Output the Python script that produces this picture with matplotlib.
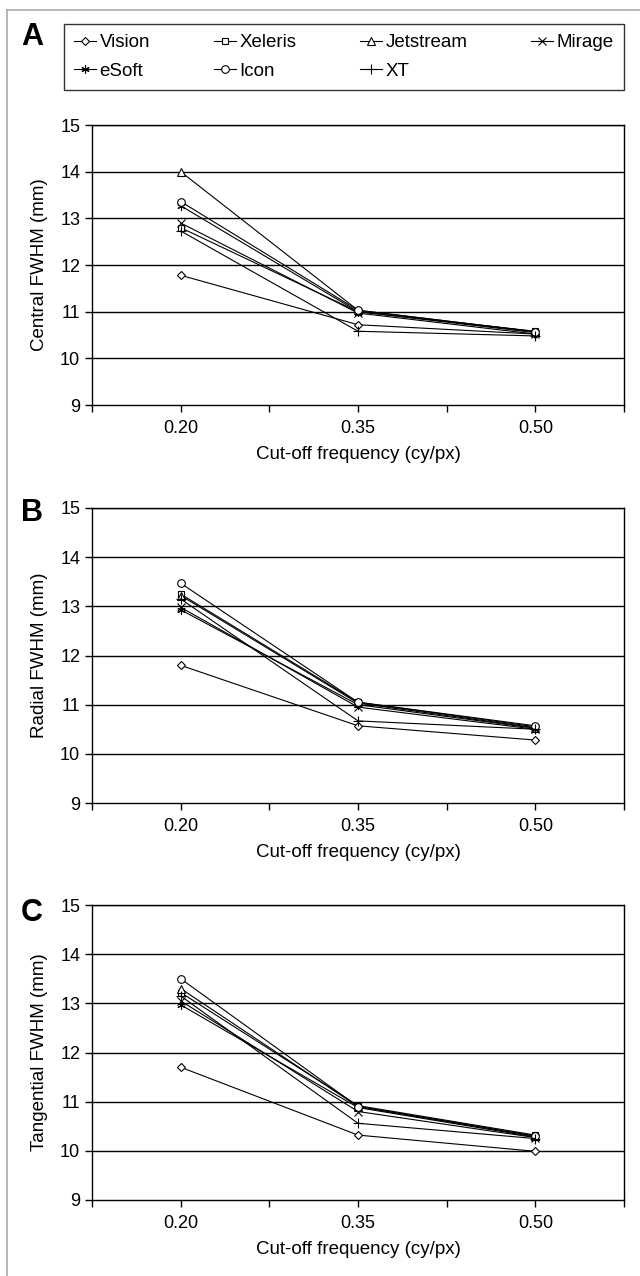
import matplotlib
matplotlib.use("Agg")
from matplotlib import pyplot as plt
from matplotlib.lines import Line2D
import numpy as np

plt.rcParams['font.family'] = ['Liberation Sans', 'DejaVu Sans']

freqs = ['0.20', '0.35', '0.50']
names = ['Vision', 'Xeleris', 'Jetstream', 'Mirage', 'eSoft', 'Icon', 'XT']
markers = ['D', 's', '^', 'x', (6, 2, 0), 'o', '+']
msizes = [4, 5, 5.5, 5.5, 6, 5.5, 7]

# FWHM (mm) at 0.20, 0.35, 0.50 cy/px
central = {
    'Vision':    [11.78, 10.72, 10.52],
    'Xeleris':   [12.80, 11.00, 10.58],
    'Jetstream': [14.00, 11.03, 10.57],
    'Mirage':    [12.90, 10.97, 10.52],
    'eSoft':     [13.27, 11.00, 10.55],
    'Icon':      [13.36, 11.03, 10.57],
    'XT':        [12.73, 10.58, 10.48],
}
radial = {
    'Vision':    [11.80, 10.57, 10.28],
    'Xeleris':   [13.25, 11.05, 10.55],
    'Jetstream': [13.22, 11.03, 10.53],
    'Mirage':    [12.98, 10.95, 10.50],
    'eSoft':     [12.93, 11.00, 10.52],
    'Icon':      [13.47, 11.05, 10.57],
    'XT':        [13.15, 10.67, 10.50],
}
tangential = {
    'Vision':    [11.70, 10.32, 9.99],
    'Xeleris':   [13.22, 10.92, 10.32],
    'Jetstream': [13.30, 10.90, 10.30],
    'Mirage':    [13.05, 10.80, 10.27],
    'eSoft':     [12.97, 10.88, 10.28],
    'Icon':      [13.50, 10.90, 10.30],
    'XT':        [13.15, 10.56, 10.25],
}

panels = [('A', 'Central FWHM (mm)', central),
          ('B', 'Radial FWHM (mm)', radial),
          ('C', 'Tangential FWHM (mm)', tangential)]

W, H = 640, 1276
fig = plt.figure(figsize=(W / 100, H / 100), dpi=100)

# axes boxes in pixels: left, right, top, bottom
R = 624
boxes = [(92, R, 125, 405), (92, R, 508, 803), (92, R, 905, 1200)]
letter_y = [37, 513, 913]

x = np.arange(len(freqs))
handles = []
for (letter, ylab, data), (l, r, t, b), ly in zip(panels, boxes, letter_y):
    ax = fig.add_axes([l / W, 1 - b / H, (r - l) / W, (b - t) / H])
    for y in range(10, 16):
        ax.axhline(y, color='black', lw=1.0, zorder=1)
    hs = []
    for name, m, ms in zip(names, markers, msizes):
        h, = ax.plot(x, data[name], color='black', lw=0.8, marker=m, ms=ms,
                     mfc='white', mec='black', mew=0.8, label=name, zorder=3)
        hs.append(h)
    if not handles:
        handles = hs
    ax.set_xlim(-0.5, 2.5)
    ax.set_ylim(9, 15)
    ax.set_yticks(range(9, 16))
    ax.set_xticks(np.arange(-0.5, 2.6, 0.5))
    ax.set_xticklabels(['', freqs[0], '', freqs[1], '', freqs[2], ''])
    ax.tick_params(direction='out', length=5, width=1, labelsize=13, color='black')
    ax.tick_params(axis='x', pad=6)
    for s in ax.spines.values():
        s.set_color('black')
        s.set_linewidth(1)
    ax.set_ylabel(ylab, fontsize=13.5, labelpad=9)
    ax.set_xlabel('Cut-off frequency (cy/px)', fontsize=13.5, labelpad=6)
    fig.text(32 / W, 1 - ly / H, letter, fontsize=22, fontweight='bold',
             ha='center', va='center')

order = [0, 4, 1, 5, 2, 6, 3]
leg = fig.legend([handles[i] for i in order], [names[i] for i in order],
                 loc='upper left', bbox_to_anchor=(64 / W, 1 - 24 / H, (R - 64) / W, 0),
                 mode='expand', ncol=4, fontsize=13.5, frameon=True, fancybox=False,
                 edgecolor='black', handlelength=1.15, handletextpad=0.2,
                 borderpad=0.55, labelspacing=0.6, columnspacing=1.0,
                 borderaxespad=0)
leg.get_frame().set_linewidth(1.0)

# light grey page edge on the left and top
fig.add_artist(Line2D([7 / W, 7 / W], [0, 1 - 10 / H], transform=fig.transFigure,
                      color='#aaaaaa', lw=1.2))
fig.add_artist(Line2D([7 / W, 1], [1 - 10 / H, 1 - 10 / H], transform=fig.transFigure,
                      color='#aaaaaa', lw=1.2))

fig.savefig('out.png', dpi=100)
